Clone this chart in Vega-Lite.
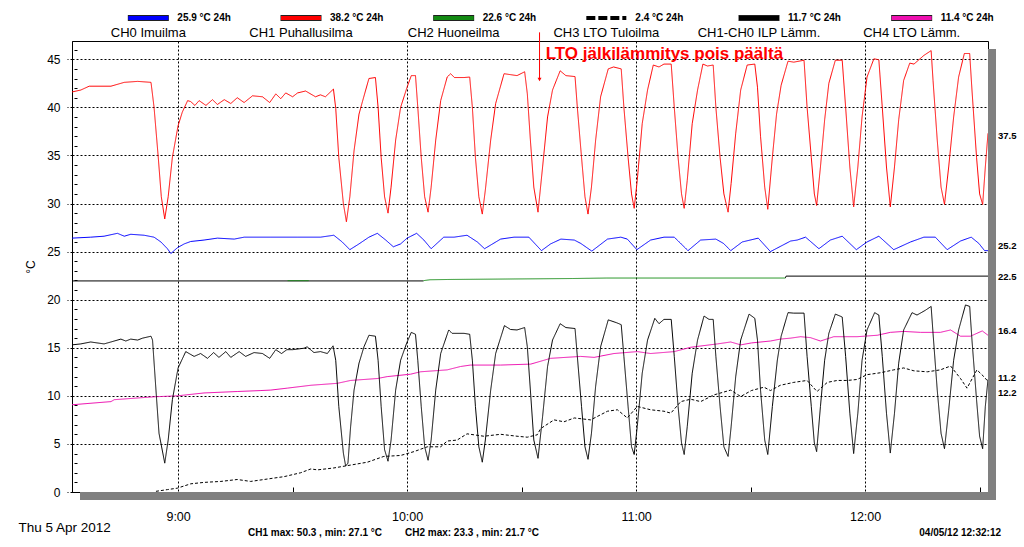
{
  "$schema": "https://vega.github.io/schema/vega-lite/v6.json",
  "background": "white",
  "padding": {"left": 18, "top": 11, "right": 8, "bottom": 0},
  "spacing": 2,
  "bounds": "flush",
  "resolve": {"scale": {"x": "independent", "y": "independent", "color": "independent", "strokeDash": "independent"}},
  "config": {
    "view": {"stroke": null},
    "font": "Liberation Sans",
    "axis": {"labelFont": "Liberation Sans", "titleFont": "Liberation Sans", "labelColor": "#000", "titleColor": "#000"}
  },
  "vconcat": [
    {
      "width": 916,
      "height": 28,
      "data": {
        "values": [
          {"k": "CH0", "name": "CH0 Imuilma", "val": "25.9 °C 24h"},
          {"k": "CH1", "name": "CH1 Puhallusilma", "val": "38.2 °C 24h"},
          {"k": "CH2", "name": "CH2 Huoneilma", "val": "22.6 °C 24h"},
          {"k": "CH3", "name": "CH3 LTO Tuloilma", "val": "2.4 °C 24h"},
          {"k": "D", "name": "CH1-CH0 ILP Lämm.", "val": "11.7 °C 24h"},
          {"k": "CH4", "name": "CH4 LTO Lämm.", "val": "11.4 °C 24h"}
        ]
      },
      "encoding": {
        "x": {"field": "k", "type": "nominal", "sort": null, "axis": null,
              "scale": {"domain": ["CH0", "CH1", "CH2", "CH3", "D", "CH4"], "paddingInner": 0, "paddingOuter": 0}}
      },
      "layer": [
        {
          "transform": [{"filter": "datum.k !== 'CH3'"}],
          "mark": {"type": "rule", "strokeWidth": 6, "color": "#202020", "xOffset": -20.5, "x2Offset": 20.5, "yOffset": -7},
          "encoding": {"x2": {"field": "k"}}
        },
        {
          "mark": {"type": "rule", "strokeWidth": 4, "xOffset": -20, "x2Offset": 20, "yOffset": -7},
          "encoding": {
            "x2": {"field": "k"},
            "color": {"field": "k", "type": "nominal", "legend": null,
                      "scale": {"domain": ["CH0", "CH1", "CH2", "CH3", "D", "CH4"],
                                "range": ["#0000ff", "#ff0000", "#138a13", "#000000", "#000000", "#ee10b0"]}},
            "strokeDash": {"field": "k", "type": "nominal", "legend": null,
                           "scale": {"domain": ["CH0", "CH1", "CH2", "CH3", "D", "CH4"],
                                     "range": [[1, 0], [1, 0], [1, 0], [9, 3], [1, 0], [1, 0]]}}
          }
        },
        {
          "mark": {"type": "text", "align": "left", "baseline": "middle", "dx": 29, "dy": -7, "fontSize": 10, "fontWeight": "bold", "color": "#000"},
          "encoding": {"text": {"field": "val"}}
        },
        {
          "mark": {"type": "text", "align": "center", "baseline": "middle", "dy": 8, "fontSize": 13, "color": "#000"},
          "encoding": {"text": {"field": "name"}}
        }
      ]
    },
    {
      "width": 916,
      "height": 451,
      "view": {"stroke": "#000", "strokeWidth": 1, "fill": "white"},
      "resolve": {"axis": {"x": "independent", "y": "independent"}},
      "layer": [
        {
          "data": {
            "values": [
              {"s":"K1","m":512.2,"v":21.95},{"s":"K1","m":604.3,"v":21.95},
              {"s":"K2","m":699.1,"v":22.25},{"s":"K2","m":699.3,"v":22.45},{"s":"K2","m":752.2,"v":22.45},
              {"s":"G1","m":568.7,"v":21.98},{"s":"G1","m":574.2,"v":21.98},
              {"s":"G2","m":604.3,"v":21.98},{"s":"G2","m":606.0,"v":22.07},{"s":"G2","m":610.6,"v":22.1},{"s":"G2","m":643.4,"v":22.2},{"s":"G2","m":652.3,"v":22.25},{"s":"G2","m":699.1,"v":22.25},
              {"s":"CH3","m":534.2,"v":0.07},{"s":"CH3","m":537.2,"v":0.25},{"s":"CH3","m":539.8,"v":0.4},{"s":"CH3","m":543.3,"v":0.85},{"s":"CH3","m":546.8,"v":1.0},{"s":"CH3","m":551.2,"v":1.1},{"s":"CH3","m":555.5,"v":1.3},{"s":"CH3","m":559.0,"v":1.1},{"s":"CH3","m":563.4,"v":1.35},{"s":"CH3","m":567.8,"v":1.6},{"s":"CH3","m":572.1,"v":2.0},{"s":"CH3","m":574.8,"v":2.4},{"s":"CH3","m":576.5,"v":2.3},{"s":"CH3","m":580.8,"v":2.5},{"s":"CH3","m":585.2,"v":2.8},{"s":"CH3","m":589.6,"v":3.1},{"s":"CH3","m":593.9,"v":3.7},{"s":"CH3","m":598.3,"v":3.8},{"s":"CH3","m":601.8,"v":4.2},{"s":"CH3","m":605.3,"v":4.7},{"s":"CH3","m":608.8,"v":4.7},{"s":"CH3","m":610.5,"v":5.3},{"s":"CH3","m":613.1,"v":5.4},{"s":"CH3","m":615.7,"v":6.05},{"s":"CH3","m":620.1,"v":5.8},{"s":"CH3","m":624.5,"v":6.0},{"s":"CH3","m":628.8,"v":5.8},{"s":"CH3","m":631.5,"v":5.7},{"s":"CH3","m":634.1,"v":5.95},{"s":"CH3","m":635.0,"v":6.6},{"s":"CH3","m":638.5,"v":7.5},{"s":"CH3","m":641.1,"v":7.3},{"s":"CH3","m":643.8,"v":7.7},{"s":"CH3","m":648.1,"v":7.5},{"s":"CH3","m":652.5,"v":8.4},{"s":"CH3","m":655.1,"v":8.55},{"s":"CH3","m":657.7,"v":7.7},{"s":"CH3","m":660.3,"v":8.9},{"s":"CH3","m":663.8,"v":8.55},{"s":"CH3","m":667.3,"v":8.4},{"s":"CH3","m":669.1,"v":8.2},{"s":"CH3","m":671.7,"v":9.4},{"s":"CH3","m":674.3,"v":9.65},{"s":"CH3","m":676.9,"v":9.4},{"s":"CH3","m":680.4,"v":10.1},{"s":"CH3","m":684.8,"v":10.6},{"s":"CH3","m":687.4,"v":9.93},{"s":"CH3","m":690.2,"v":10.55},{"s":"CH3","m":693.5,"v":10.9},{"s":"CH3","m":695.2,"v":10.55},{"s":"CH3","m":697.8,"v":11.1},{"s":"CH3","m":701.3,"v":11.4},{"s":"CH3","m":704.8,"v":11.6},{"s":"CH3","m":707.4,"v":10.45},{"s":"CH3","m":710.1,"v":11.4},{"s":"CH3","m":712.7,"v":11.6},{"s":"CH3","m":715.3,"v":11.6},{"s":"CH3","m":717.9,"v":11.7},{"s":"CH3","m":720.5,"v":12.2},{"s":"CH3","m":724.0,"v":12.4},{"s":"CH3","m":727.5,"v":12.7},{"s":"CH3","m":730.1,"v":12.9},{"s":"CH3","m":732.8,"v":12.6},{"s":"CH3","m":736.3,"v":12.5},{"s":"CH3","m":739.7,"v":12.7},{"s":"CH3","m":742.4,"v":13.1},{"s":"CH3","m":745.0,"v":11.8},{"s":"CH3","m":746.7,"v":10.8},{"s":"CH3","m":749.3,"v":12.7},{"s":"CH3","m":751.1,"v":12.0},{"s":"CH3","m":752.2,"v":11.5},
              {"s":"CH4","m":512.2,"v":9.07},{"s":"CH4","m":522.4,"v":9.4},{"s":"CH4","m":523.3,"v":9.6},{"s":"CH4","m":533.7,"v":9.9},{"s":"CH4","m":539.8,"v":10.0},{"s":"CH4","m":546.8,"v":10.3},{"s":"CH4","m":555.5,"v":10.45},{"s":"CH4","m":561.7,"v":10.55},{"s":"CH4","m":564.3,"v":10.6},{"s":"CH4","m":568.6,"v":10.8},{"s":"CH4","m":574.8,"v":11.1},{"s":"CH4","m":581.7,"v":11.3},{"s":"CH4","m":585.2,"v":11.6},{"s":"CH4","m":592.2,"v":11.8},{"s":"CH4","m":594.8,"v":12.0},{"s":"CH4","m":600.9,"v":12.25},{"s":"CH4","m":603.5,"v":12.5},{"s":"CH4","m":610.5,"v":12.7},{"s":"CH4","m":614.0,"v":13.05},{"s":"CH4","m":616.6,"v":13.2},{"s":"CH4","m":624.5,"v":13.2},{"s":"CH4","m":632.4,"v":13.3},{"s":"CH4","m":635.0,"v":13.6},{"s":"CH4","m":637.6,"v":13.9},{"s":"CH4","m":645.5,"v":14.1},{"s":"CH4","m":649.0,"v":14.0},{"s":"CH4","m":654.2,"v":14.4},{"s":"CH4","m":660.3,"v":14.6},{"s":"CH4","m":663.8,"v":14.4},{"s":"CH4","m":670.0,"v":14.6},{"s":"CH4","m":674.3,"v":15.05},{"s":"CH4","m":681.3,"v":15.4},{"s":"CH4","m":684.8,"v":15.6},{"s":"CH4","m":687.4,"v":15.3},{"s":"CH4","m":690.2,"v":15.5},{"s":"CH4","m":695.2,"v":15.7},{"s":"CH4","m":697.8,"v":15.9},{"s":"CH4","m":700.5,"v":16.0},{"s":"CH4","m":703.1,"v":16.15},{"s":"CH4","m":705.7,"v":16.05},{"s":"CH4","m":708.3,"v":15.7},{"s":"CH4","m":711.8,"v":16.15},{"s":"CH4","m":717.9,"v":16.15},{"s":"CH4","m":723.2,"v":16.3},{"s":"CH4","m":726.6,"v":16.6},{"s":"CH4","m":730.1,"v":16.7},{"s":"CH4","m":734.5,"v":16.6},{"s":"CH4","m":739.7,"v":16.6},{"s":"CH4","m":742.4,"v":16.85},{"s":"CH4","m":745.0,"v":16.2},{"s":"CH4","m":747.6,"v":16.2},{"s":"CH4","m":750.7,"v":16.75},{"s":"CH4","m":752.2,"v":16.3},
              {"s":"D","m":512.2,"v":15.3},{"s":"D","m":514.5,"v":15.4},{"s":"D","m":517.1,"v":15.6},{"s":"D","m":520.6,"v":15.4},{"s":"D","m":522.4,"v":15.6},{"s":"D","m":525.0,"v":15.9},{"s":"D","m":526.3,"v":15.7},{"s":"D","m":527.6,"v":15.9},{"s":"D","m":529.4,"v":15.8},{"s":"D","m":530.7,"v":16.0},{"s":"D","m":532.9,"v":16.2},{"s":"D","m":533.3,"v":15.8},{"s":"D","m":534.2,"v":10.6},{"s":"D","m":535.0,"v":6.1},{"s":"D","m":536.5,"v":3.0},{"s":"D","m":537.4,"v":5.4},{"s":"D","m":538.5,"v":9.6},{"s":"D","m":540.0,"v":12.9},{"s":"D","m":542.0,"v":14.6},{"s":"D","m":544.2,"v":14.1},{"s":"D","m":545.9,"v":14.4},{"s":"D","m":547.7,"v":13.9},{"s":"D","m":549.3,"v":14.5},{"s":"D","m":550.7,"v":14.0},{"s":"D","m":552.5,"v":14.6},{"s":"D","m":553.8,"v":14.0},{"s":"D","m":556.0,"v":14.6},{"s":"D","m":557.7,"v":14.1},{"s":"D","m":559.9,"v":14.5},{"s":"D","m":562.1,"v":14.4},{"s":"D","m":564.0,"v":13.9},{"s":"D","m":565.6,"v":14.8},{"s":"D","m":567.1,"v":14.4},{"s":"D","m":568.5,"v":14.8},{"s":"D","m":570.0,"v":14.8},{"s":"D","m":573.0,"v":14.95},{"s":"D","m":573.8,"v":15.1},{"s":"D","m":575.6,"v":14.5},{"s":"D","m":577.3,"v":14.6},{"s":"D","m":579.1,"v":14.4},{"s":"D","m":580.6,"v":15.2},{"s":"D","m":581.3,"v":13.7},{"s":"D","m":582.1,"v":8.9},{"s":"D","m":583.3,"v":4.05},{"s":"D","m":583.9,"v":2.7},{"s":"D","m":584.5,"v":3.0},{"s":"D","m":585.2,"v":6.8},{"s":"D","m":586.1,"v":10.6},{"s":"D","m":587.4,"v":13.4},{"s":"D","m":588.7,"v":15.1},{"s":"D","m":590.0,"v":16.3},{"s":"D","m":591.7,"v":16.2},{"s":"D","m":592.4,"v":13.7},{"s":"D","m":593.2,"v":8.9},{"s":"D","m":594.1,"v":4.4},{"s":"D","m":595.0,"v":3.2},{"s":"D","m":595.8,"v":5.4},{"s":"D","m":597.0,"v":10.6},{"s":"D","m":598.3,"v":13.7},{"s":"D","m":599.9,"v":15.5},{"s":"D","m":601.1,"v":16.6},{"s":"D","m":602.2,"v":16.4},{"s":"D","m":602.8,"v":13.7},{"s":"D","m":603.7,"v":8.9},{"s":"D","m":604.6,"v":4.7},{"s":"D","m":605.5,"v":3.3},{"s":"D","m":606.3,"v":5.4},{"s":"D","m":607.5,"v":10.6},{"s":"D","m":608.8,"v":14.4},{"s":"D","m":610.9,"v":16.85},{"s":"D","m":611.8,"v":16.5},{"s":"D","m":614.9,"v":16.5},{"s":"D","m":616.4,"v":16.4},{"s":"D","m":617.1,"v":13.7},{"s":"D","m":617.9,"v":8.9},{"s":"D","m":618.8,"v":4.7},{"s":"D","m":619.7,"v":3.1},{"s":"D","m":620.5,"v":5.4},{"s":"D","m":621.9,"v":10.6},{"s":"D","m":623.2,"v":14.4},{"s":"D","m":625.5,"v":17.3},{"s":"D","m":627.1,"v":16.9},{"s":"D","m":628.8,"v":16.85},{"s":"D","m":630.8,"v":17.1},{"s":"D","m":631.5,"v":15.1},{"s":"D","m":632.3,"v":10.6},{"s":"D","m":633.2,"v":5.4},{"s":"D","m":634.3,"v":3.5},{"s":"D","m":635.5,"v":7.85},{"s":"D","m":636.8,"v":13.05},{"s":"D","m":638.1,"v":15.8},{"s":"D","m":640.1,"v":17.5},{"s":"D","m":641.6,"v":17.1},{"s":"D","m":644.0,"v":17.0},{"s":"D","m":644.6,"v":14.1},{"s":"D","m":645.7,"v":8.9},{"s":"D","m":646.6,"v":4.7},{"s":"D","m":647.4,"v":3.4},{"s":"D","m":648.3,"v":6.1},{"s":"D","m":649.4,"v":11.0},{"s":"D","m":650.7,"v":15.1},{"s":"D","m":652.7,"v":17.9},{"s":"D","m":654.9,"v":17.6},{"s":"D","m":656.1,"v":17.4},{"s":"D","m":656.8,"v":14.1},{"s":"D","m":657.9,"v":8.9},{"s":"D","m":658.8,"v":4.7},{"s":"D","m":659.5,"v":3.9},{"s":"D","m":660.3,"v":6.8},{"s":"D","m":661.6,"v":12.35},{"s":"D","m":663.0,"v":15.8},{"s":"D","m":664.9,"v":18.06},{"s":"D","m":666.0,"v":17.5},{"s":"D","m":667.3,"v":17.95},{"s":"D","m":669.2,"v":17.95},{"s":"D","m":670.0,"v":14.1},{"s":"D","m":671.0,"v":8.9},{"s":"D","m":671.9,"v":5.1},{"s":"D","m":672.6,"v":3.9},{"s":"D","m":673.4,"v":6.8},{"s":"D","m":674.7,"v":12.35},{"s":"D","m":676.1,"v":15.8},{"s":"D","m":677.8,"v":18.3},{"s":"D","m":679.1,"v":17.95},{"s":"D","m":680.2,"v":17.95},{"s":"D","m":680.9,"v":14.1},{"s":"D","m":682.0,"v":8.9},{"s":"D","m":683.0,"v":4.7},{"s":"D","m":684.1,"v":3.7},{"s":"D","m":684.9,"v":6.8},{"s":"D","m":686.1,"v":12.0},{"s":"D","m":687.4,"v":15.8},{"s":"D","m":689.6,"v":18.5},{"s":"D","m":691.1,"v":18.06},{"s":"D","m":691.8,"v":15.8},{"s":"D","m":692.6,"v":10.6},{"s":"D","m":693.7,"v":5.4},{"s":"D","m":694.5,"v":3.9},{"s":"D","m":695.7,"v":8.9},{"s":"D","m":697.0,"v":13.7},{"s":"D","m":698.0,"v":16.2},{"s":"D","m":699.8,"v":18.65},{"s":"D","m":701.3,"v":18.6},{"s":"D","m":704.0,"v":18.6},{"s":"D","m":704.8,"v":14.1},{"s":"D","m":705.9,"v":8.9},{"s":"D","m":706.7,"v":5.1},{"s":"D","m":707.3,"v":4.2},{"s":"D","m":708.3,"v":8.9},{"s":"D","m":709.4,"v":13.7},{"s":"D","m":710.5,"v":16.5},{"s":"D","m":712.2,"v":18.5},{"s":"D","m":714.0,"v":18.2},{"s":"D","m":714.9,"v":14.1},{"s":"D","m":716.0,"v":8.2},{"s":"D","m":717.0,"v":4.0},{"s":"D","m":718.1,"v":8.2},{"s":"D","m":719.2,"v":13.7},{"s":"D","m":720.5,"v":16.85},{"s":"D","m":722.5,"v":18.65},{"s":"D","m":723.6,"v":18.4},{"s":"D","m":724.5,"v":14.1},{"s":"D","m":725.6,"v":8.2},{"s":"D","m":726.6,"v":4.05},{"s":"D","m":727.7,"v":8.2},{"s":"D","m":728.8,"v":13.4},{"s":"D","m":730.1,"v":16.85},{"s":"D","m":732.3,"v":18.65},{"s":"D","m":733.6,"v":18.4},{"s":"D","m":735.8,"v":18.9},{"s":"D","m":737.3,"v":19.3},{"s":"D","m":737.8,"v":16.5},{"s":"D","m":738.9,"v":10.6},{"s":"D","m":739.9,"v":6.1},{"s":"D","m":740.8,"v":4.5},{"s":"D","m":741.9,"v":8.5},{"s":"D","m":743.2,"v":13.7},{"s":"D","m":744.5,"v":16.85},{"s":"D","m":746.3,"v":19.45},{"s":"D","m":747.4,"v":19.3},{"s":"D","m":748.0,"v":15.8},{"s":"D","m":749.2,"v":9.6},{"s":"D","m":750.0,"v":5.8},{"s":"D","m":750.8,"v":4.5},{"s":"D","m":751.5,"v":8.9},{"s":"D","m":752.2,"v":11.7},
              {"s":"CH0","m":512.2,"v":26.4},{"s":"CH0","m":517.1,"v":26.5},{"s":"CH0","m":520.6,"v":26.6},{"s":"CH0","m":524.1,"v":26.9},{"s":"CH0","m":525.9,"v":26.6},{"s":"CH0","m":527.6,"v":26.8},{"s":"CH0","m":531.1,"v":26.7},{"s":"CH0","m":533.7,"v":26.5},{"s":"CH0","m":535.5,"v":26.0},{"s":"CH0","m":537.2,"v":25.3},{"s":"CH0","m":538.1,"v":24.8},{"s":"CH0","m":539.8,"v":25.4},{"s":"CH0","m":541.6,"v":25.8},{"s":"CH0","m":543.3,"v":26.05},{"s":"CH0","m":546.8,"v":26.2},{"s":"CH0","m":550.3,"v":26.4},{"s":"CH0","m":554.7,"v":26.3},{"s":"CH0","m":557.3,"v":26.5},{"s":"CH0","m":564.3,"v":26.5},{"s":"CH0","m":571.3,"v":26.5},{"s":"CH0","m":577.3,"v":26.5},{"s":"CH0","m":580.8,"v":26.7},{"s":"CH0","m":583.0,"v":26.0},{"s":"CH0","m":585.0,"v":25.2},{"s":"CH0","m":587.4,"v":25.8},{"s":"CH0","m":590.0,"v":26.5},{"s":"CH0","m":592.2,"v":26.9},{"s":"CH0","m":594.4,"v":26.2},{"s":"CH0","m":596.4,"v":25.5},{"s":"CH0","m":598.3,"v":25.8},{"s":"CH0","m":600.0,"v":26.4},{"s":"CH0","m":602.5,"v":26.9},{"s":"CH0","m":604.4,"v":26.2},{"s":"CH0","m":606.3,"v":25.3},{"s":"CH0","m":609.6,"v":26.5},{"s":"CH0","m":612.3,"v":26.5},{"s":"CH0","m":615.7,"v":26.7},{"s":"CH0","m":618.4,"v":26.0},{"s":"CH0","m":620.3,"v":25.3},{"s":"CH0","m":624.5,"v":26.3},{"s":"CH0","m":628.0,"v":26.5},{"s":"CH0","m":631.9,"v":26.5},{"s":"CH0","m":635.2,"v":25.1},{"s":"CH0","m":637.6,"v":25.8},{"s":"CH0","m":640.3,"v":26.3},{"s":"CH0","m":643.8,"v":26.2},{"s":"CH0","m":645.5,"v":25.85},{"s":"CH0","m":648.4,"v":25.05},{"s":"CH0","m":652.5,"v":26.3},{"s":"CH0","m":656.0,"v":26.5},{"s":"CH0","m":657.7,"v":26.3},{"s":"CH0","m":660.2,"v":25.2},{"s":"CH0","m":663.8,"v":26.2},{"s":"CH0","m":667.3,"v":26.5},{"s":"CH0","m":670.0,"v":26.5},{"s":"CH0","m":673.6,"v":25.1},{"s":"CH0","m":676.9,"v":26.2},{"s":"CH0","m":680.9,"v":26.3},{"s":"CH0","m":682.9,"v":25.85},{"s":"CH0","m":684.8,"v":25.1},{"s":"CH0","m":687.8,"v":26.0},{"s":"CH0","m":692.0,"v":26.4},{"s":"CH0","m":695.2,"v":25.0},{"s":"CH0","m":700.5,"v":26.1},{"s":"CH0","m":702.2,"v":26.2},{"s":"CH0","m":704.4,"v":26.5},{"s":"CH0","m":707.9,"v":25.3},{"s":"CH0","m":710.9,"v":26.2},{"s":"CH0","m":714.0,"v":26.6},{"s":"CH0","m":717.7,"v":25.2},{"s":"CH0","m":720.5,"v":26.0},{"s":"CH0","m":723.6,"v":26.6},{"s":"CH0","m":727.5,"v":25.2},{"s":"CH0","m":731.9,"v":26.0},{"s":"CH0","m":735.4,"v":26.5},{"s":"CH0","m":738.4,"v":26.5},{"s":"CH0","m":741.5,"v":25.2},{"s":"CH0","m":745.0,"v":26.1},{"s":"CH0","m":747.8,"v":26.5},{"s":"CH0","m":749.8,"v":25.85},{"s":"CH0","m":751.3,"v":25.1},{"s":"CH0","m":752.2,"v":25.1},
              {"s":"CH1","m":512.2,"v":41.6},{"s":"CH1","m":514.5,"v":41.8},{"s":"CH1","m":516.7,"v":42.2},{"s":"CH1","m":522.4,"v":42.2},{"s":"CH1","m":525.9,"v":42.6},{"s":"CH1","m":529.4,"v":42.7},{"s":"CH1","m":532.9,"v":42.6},{"s":"CH1","m":533.7,"v":40.0},{"s":"CH1","m":534.8,"v":34.8},{"s":"CH1","m":535.6,"v":30.7},{"s":"CH1","m":536.5,"v":28.4},{"s":"CH1","m":537.4,"v":30.7},{"s":"CH1","m":538.5,"v":34.8},{"s":"CH1","m":540.0,"v":38.1},{"s":"CH1","m":541.1,"v":39.5},{"s":"CH1","m":542.5,"v":40.7},{"s":"CH1","m":543.3,"v":40.6},{"s":"CH1","m":544.4,"v":40.2},{"s":"CH1","m":545.5,"v":40.7},{"s":"CH1","m":547.3,"v":40.2},{"s":"CH1","m":549.0,"v":40.8},{"s":"CH1","m":550.3,"v":40.3},{"s":"CH1","m":552.1,"v":40.8},{"s":"CH1","m":553.8,"v":40.4},{"s":"CH1","m":555.5,"v":41.0},{"s":"CH1","m":557.3,"v":40.5},{"s":"CH1","m":559.5,"v":41.2},{"s":"CH1","m":562.1,"v":41.1},{"s":"CH1","m":564.0,"v":40.5},{"s":"CH1","m":565.6,"v":41.4},{"s":"CH1","m":566.9,"v":40.9},{"s":"CH1","m":568.2,"v":41.5},{"s":"CH1","m":570.0,"v":41.1},{"s":"CH1","m":571.3,"v":41.5},{"s":"CH1","m":573.4,"v":41.7},{"s":"CH1","m":576.0,"v":41.1},{"s":"CH1","m":577.3,"v":41.3},{"s":"CH1","m":578.6,"v":41.1},{"s":"CH1","m":580.7,"v":41.9},{"s":"CH1","m":581.3,"v":39.9},{"s":"CH1","m":582.1,"v":34.8},{"s":"CH1","m":583.3,"v":30.0},{"s":"CH1","m":584.1,"v":28.1},{"s":"CH1","m":585.0,"v":30.7},{"s":"CH1","m":586.1,"v":35.5},{"s":"CH1","m":587.4,"v":39.3},{"s":"CH1","m":588.3,"v":40.6},{"s":"CH1","m":590.0,"v":43.0},{"s":"CH1","m":591.7,"v":43.1},{"s":"CH1","m":592.4,"v":40.0},{"s":"CH1","m":593.2,"v":34.8},{"s":"CH1","m":594.1,"v":30.7},{"s":"CH1","m":595.0,"v":29.0},{"s":"CH1","m":595.8,"v":31.7},{"s":"CH1","m":597.0,"v":36.6},{"s":"CH1","m":598.3,"v":40.0},{"s":"CH1","m":600.0,"v":42.1},{"s":"CH1","m":601.1,"v":43.3},{"s":"CH1","m":602.2,"v":43.3},{"s":"CH1","m":602.8,"v":40.0},{"s":"CH1","m":603.7,"v":34.8},{"s":"CH1","m":604.6,"v":30.7},{"s":"CH1","m":605.5,"v":29.1},{"s":"CH1","m":606.3,"v":31.7},{"s":"CH1","m":607.5,"v":36.6},{"s":"CH1","m":608.8,"v":40.7},{"s":"CH1","m":610.5,"v":43.15},{"s":"CH1","m":611.4,"v":43.5},{"s":"CH1","m":612.4,"v":43.1},{"s":"CH1","m":614.9,"v":43.1},{"s":"CH1","m":616.4,"v":43.15},{"s":"CH1","m":617.1,"v":40.0},{"s":"CH1","m":617.9,"v":34.8},{"s":"CH1","m":618.8,"v":30.7},{"s":"CH1","m":619.7,"v":28.9},{"s":"CH1","m":620.5,"v":31.4},{"s":"CH1","m":621.9,"v":36.6},{"s":"CH1","m":623.2,"v":40.4},{"s":"CH1","m":625.4,"v":43.5},{"s":"CH1","m":627.1,"v":43.4},{"s":"CH1","m":628.8,"v":43.3},{"s":"CH1","m":630.8,"v":43.7},{"s":"CH1","m":631.5,"v":41.4},{"s":"CH1","m":632.3,"v":36.6},{"s":"CH1","m":633.2,"v":31.7},{"s":"CH1","m":634.3,"v":29.1},{"s":"CH1","m":635.5,"v":33.8},{"s":"CH1","m":636.8,"v":39.0},{"s":"CH1","m":638.1,"v":41.8},{"s":"CH1","m":640.1,"v":43.8},{"s":"CH1","m":641.6,"v":43.3},{"s":"CH1","m":644.0,"v":43.2},{"s":"CH1","m":644.6,"v":40.0},{"s":"CH1","m":645.7,"v":34.8},{"s":"CH1","m":646.6,"v":30.7},{"s":"CH1","m":647.4,"v":28.9},{"s":"CH1","m":648.3,"v":31.7},{"s":"CH1","m":649.4,"v":36.6},{"s":"CH1","m":650.7,"v":41.1},{"s":"CH1","m":652.7,"v":44.0},{"s":"CH1","m":654.1,"v":44.2},{"s":"CH1","m":656.1,"v":44.0},{"s":"CH1","m":656.8,"v":40.0},{"s":"CH1","m":657.9,"v":34.8},{"s":"CH1","m":658.8,"v":31.0},{"s":"CH1","m":659.5,"v":29.5},{"s":"CH1","m":660.3,"v":32.4},{"s":"CH1","m":661.6,"v":38.3},{"s":"CH1","m":663.0,"v":41.8},{"s":"CH1","m":664.5,"v":44.4},{"s":"CH1","m":666.0,"v":44.2},{"s":"CH1","m":667.3,"v":44.5},{"s":"CH1","m":669.2,"v":44.5},{"s":"CH1","m":670.0,"v":40.0},{"s":"CH1","m":671.0,"v":34.8},{"s":"CH1","m":671.9,"v":31.0},{"s":"CH1","m":672.6,"v":29.5},{"s":"CH1","m":673.4,"v":32.4},{"s":"CH1","m":674.7,"v":38.3},{"s":"CH1","m":676.1,"v":41.8},{"s":"CH1","m":677.5,"v":44.5},{"s":"CH1","m":678.7,"v":44.3},{"s":"CH1","m":680.2,"v":44.4},{"s":"CH1","m":680.9,"v":40.0},{"s":"CH1","m":682.0,"v":34.8},{"s":"CH1","m":683.0,"v":31.0},{"s":"CH1","m":684.1,"v":29.1},{"s":"CH1","m":684.9,"v":32.1},{"s":"CH1","m":686.1,"v":37.3},{"s":"CH1","m":687.4,"v":41.8},{"s":"CH1","m":689.1,"v":44.4},{"s":"CH1","m":691.1,"v":44.5},{"s":"CH1","m":691.8,"v":42.1},{"s":"CH1","m":692.6,"v":37.0},{"s":"CH1","m":693.7,"v":31.7},{"s":"CH1","m":694.5,"v":29.4},{"s":"CH1","m":695.7,"v":34.8},{"s":"CH1","m":696.8,"v":39.3},{"s":"CH1","m":698.0,"v":42.3},{"s":"CH1","m":699.8,"v":44.8},{"s":"CH1","m":701.3,"v":44.7},{"s":"CH1","m":704.0,"v":44.9},{"s":"CH1","m":704.8,"v":40.0},{"s":"CH1","m":705.9,"v":34.8},{"s":"CH1","m":706.7,"v":31.0},{"s":"CH1","m":707.3,"v":29.8},{"s":"CH1","m":708.3,"v":33.8},{"s":"CH1","m":709.4,"v":38.7},{"s":"CH1","m":710.5,"v":42.5},{"s":"CH1","m":712.2,"v":44.9},{"s":"CH1","m":714.0,"v":44.9},{"s":"CH1","m":714.9,"v":40.0},{"s":"CH1","m":716.0,"v":33.8},{"s":"CH1","m":717.0,"v":29.65},{"s":"CH1","m":718.1,"v":33.8},{"s":"CH1","m":719.2,"v":39.0},{"s":"CH1","m":720.5,"v":43.15},{"s":"CH1","m":722.3,"v":45.05},{"s":"CH1","m":723.6,"v":44.95},{"s":"CH1","m":724.5,"v":40.0},{"s":"CH1","m":725.6,"v":33.8},{"s":"CH1","m":726.6,"v":29.65},{"s":"CH1","m":727.7,"v":33.8},{"s":"CH1","m":728.8,"v":38.7},{"s":"CH1","m":730.1,"v":42.8},{"s":"CH1","m":731.7,"v":44.6},{"s":"CH1","m":732.8,"v":44.5},{"s":"CH1","m":735.4,"v":45.4},{"s":"CH1","m":737.3,"v":45.9},{"s":"CH1","m":737.8,"v":42.8},{"s":"CH1","m":738.9,"v":36.6},{"s":"CH1","m":739.9,"v":31.7},{"s":"CH1","m":740.8,"v":29.9},{"s":"CH1","m":741.9,"v":33.8},{"s":"CH1","m":743.2,"v":39.0},{"s":"CH1","m":744.5,"v":43.15},{"s":"CH1","m":746.0,"v":45.6},{"s":"CH1","m":747.4,"v":45.6},{"s":"CH1","m":748.0,"v":41.8},{"s":"CH1","m":749.2,"v":34.8},{"s":"CH1","m":750.0,"v":31.0},{"s":"CH1","m":750.8,"v":29.9},{"s":"CH1","m":751.5,"v":33.8},{"s":"CH1","m":752.2,"v":37.3}
            ]
          },
          "mark": {"type": "line", "strokeWidth": 1, "clip": true},
          "encoding": {
            "x": {
              "field": "m", "type": "quantitative",
              "scale": {"domain": [512.2, 752.2], "nice": false, "zero": false},
              "axis": {
                "title": null,
                "values": [540, 600, 660, 720],
                "labelExpr": "floor(datum.value / 60) + ':00'",
                "labelFontSize": 12.5,
                "labelOverlap": false,
                "labelFlush": false,
                "labelPadding": 10,
                "domainColor": "#000",
                "tickColor": "#000",
                "tickSize": 8,
                "tickDash": [2, 2],
                "grid": true,
                "gridColor": "#000",
                "gridOpacity": 1,
                "gridDash": [2, 2]
              }
            },
            "y": {
              "field": "v", "type": "quantitative",
              "scale": {"domain": [0, 46.9], "nice": false, "zero": false},
              "axis": {
                "title": "°C",
                "titleFontSize": 12,
                "titleFontWeight": "normal",
                "titlePadding": 9,
                "values": [0, 5, 10, 15, 20, 25, 30, 35, 40, 45],
                "labelFontSize": 12,
                "labelOverlap": false,
                "labelFlush": false,
                "labelPadding": 7,
                "domainColor": "#000",
                "tickColor": "#000",
                "tickSize": 5,
                "tickDash": [2, 2],
                "grid": true,
                "gridColor": "#000",
                "gridOpacity": 1,
                "gridDash": [2, 2]
              }
            },
            "color": {
              "field": "s", "type": "nominal", "legend": null,
              "scale": {"domain": ["K1", "K2", "G1", "G2", "CH3", "CH4", "D", "CH0", "CH1"],
                        "range": ["#000000", "#000000", "#138a13", "#138a13", "#000000", "#ee10b0", "#000000", "#0000ff", "#ff0000"]}
            },
            "strokeDash": {
              "field": "s", "type": "nominal", "legend": null,
              "scale": {"domain": ["K1", "K2", "G1", "G2", "CH3", "CH4", "D", "CH0", "CH1"],
                        "range": [[1, 0], [1, 0], [1, 0], [1, 0], [3, 2], [1, 0], [1, 0], [1, 0], [1, 0]]}
            }
          }
        },
        {
          "data": {"values": [{"a": 512.2, "b": 752.2, "lo": 0, "hi": 46.9}]},
          "mark": {"type": "rect", "color": "#808080", "xOffset": 8, "x2Offset": 8, "y2Offset": 8},
          "encoding": {
            "x": {"field": "a", "type": "quantitative",
                  "axis": {"orient": "bottom", "title": null, "values": [570, 630, 690, 750], "labels": false, "domain": false, "grid": false, "tickSize": -5, "tickColor": "#000"}},
            "x2": {"field": "b"},
            "y": {"field": "lo", "type": "quantitative",
                  "axis": {"orient": "left", "title": null, "values": [1,2,3,4,6,7,8,9,11,12,13,14,16,17,18,19,21,22,23,24,26,27,28,29,31,32,33,34,36,37,38,39,41,42,43,44,46], "labels": false, "domain": false, "grid": false, "tickSize": -3, "tickColor": "#000", "offset": -2}},
            "y2": {"field": "lo"}
          }
        },
        {
          "data": {"values": [{"a": 512.2, "b": 752.2, "lo": 0, "hi": 46.9}]},
          "mark": {"type": "rect", "color": "#808080", "x2Offset": 8, "yOffset": 8, "y2Offset": 8},
          "encoding": {
            "x": {"field": "b", "type": "quantitative", "axis": null},
            "x2": {"field": "b"},
            "y": {"field": "hi", "type": "quantitative", "axis": null},
            "y2": {"field": "lo"}
          }
        },
        {
          "data": {"values": [{"m": 634.7, "from": 47.8, "to": 42.9}]},
          "mark": {"type": "rule", "color": "#ff0000", "strokeWidth": 1},
          "encoding": {
            "x": {"field": "m", "type": "quantitative", "axis": null},
            "y": {"field": "from", "type": "quantitative", "axis": null},
            "y2": {"field": "to"}
          }
        },
        {
          "data": {"values": [{"m": 634.7, "from": 47.8, "to": 42.9}]},
          "mark": {"type": "point", "shape": "triangle-down", "filled": true, "color": "#ff0000", "size": 16, "opacity": 1},
          "encoding": {
            "x": {"field": "m", "type": "quantitative", "axis": null},
            "y": {"field": "to", "type": "quantitative", "axis": null}
          }
        },
        {
          "data": {"values": [{"m": 636.3, "v": 45.6, "t": "LTO jälkilämmitys pois päältä"}]},
          "mark": {"type": "text", "align": "left", "baseline": "middle", "fontSize": 17, "fontWeight": "bold", "color": "#ff0000"},
          "encoding": {
            "x": {"field": "m", "type": "quantitative", "axis": null},
            "y": {"field": "v", "type": "quantitative", "axis": null},
            "text": {"field": "t"}
          }
        },
        {
          "data": {
            "values": [
              {"lab": "37.5", "v": 37.0},
              {"lab": "25.2", "v": 25.6},
              {"lab": "22.5", "v": 22.4},
              {"lab": "16.4", "v": 16.7},
              {"lab": "11.2", "v": 11.85},
              {"lab": "12.2", "v": 10.3}
            ]
          },
          "mark": {"type": "text", "align": "left", "baseline": "middle", "dx": 10, "fontSize": 9.5, "fontWeight": "bold", "color": "#000"},
          "encoding": {
            "x": {"datum": 752.2, "type": "quantitative", "axis": null},
            "y": {"field": "v", "type": "quantitative", "axis": null},
            "text": {"field": "lab"}
          }
        }
      ]
    },
    {
      "width": 916,
      "height": 30,
      "layer": [
        {
          "data": {"values": [{"p": -0.0584, "t": "Thu 5 Apr 2012"}]},
          "mark": {"type": "text", "align": "left", "baseline": "alphabetic", "dy": 23, "fontSize": 13.5, "color": "#000"},
          "encoding": {
            "x": {"field": "p", "type": "quantitative", "axis": null, "scale": {"domain": [0, 1], "nice": false, "zero": false}},
            "text": {"field": "t"}
          }
        },
        {
          "data": {"values": [{"p": 0.1921, "t": "CH1 max: 50.3 , min: 27.1 °C"}, {"p": 0.3635, "t": "CH2 max: 23.3 , min: 21.7 °C"}]},
          "mark": {"type": "text", "align": "left", "baseline": "alphabetic", "dy": 27, "fontSize": 10, "fontWeight": "bold", "color": "#000"},
          "encoding": {
            "x": {"field": "p", "type": "quantitative", "axis": null, "scale": {"domain": [0, 1], "nice": false, "zero": false}},
            "text": {"field": "t"}
          }
        },
        {
          "data": {"values": [{"p": 1.0142, "t": "04/05/12 12:32:12"}]},
          "mark": {"type": "text", "align": "right", "baseline": "alphabetic", "dy": 27, "fontSize": 10, "fontWeight": "bold", "color": "#000"},
          "encoding": {
            "x": {"field": "p", "type": "quantitative", "axis": null, "scale": {"domain": [0, 1], "nice": false, "zero": false}},
            "text": {"field": "t"}
          }
        }
      ]
    }
  ]
}
